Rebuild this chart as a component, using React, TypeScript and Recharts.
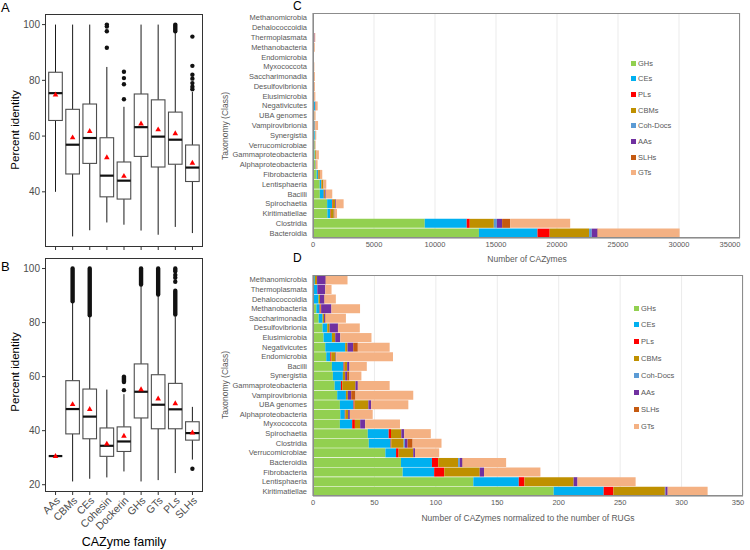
import React from "react";
import { ComposedChart, BarChart, Bar, XAxis, YAxis, CartesianGrid } from "recharts";

const families = ["AAs", "CBMs", "CEs", "Cohesin", "Dockerin", "GHs", "GTs", "PLs", "SLHs"];

// Panel A - percent identity per CAZyme family
const aWhiskLo = [40.0, 24.0, 26.2, 29.0, 28.2, 26.1, 24.6, 27.4, 25.2];
const aQ1 = [65.6, 46.4, 50.2, 38.2, 37.4, 52.7, 48.9, 49.9, 43.7];
const aMedian = [75.4, 56.9, 59.3, 45.8, 44.0, 63.2, 59.8, 58.7, 48.7];
const aQ3 = [82.9, 69.6, 71.5, 59.4, 50.7, 75.1, 73.0, 68.6, 56.8];
const aWhiskHi = [100, 100, 100, 84.8, 70.5, 100, 100, 97.6, 75.8];
const aMean = [74.9, 59.5, 61.8, 52.4, 45.7, 64.5, 62.4, 61.0, 50.4];
const aOutliers = [[], [], [], [100, 99.3, 97.6, 91.7], [83.1, 80.8, 78.6, 73.2], [], [], [], [95.7, 85.2, 82.0, 80.6, 79.0, 77.7, 76.8]];
const aOutlierRuns = [[], [], [], [], [], [], [], [[97.6, 100]], []];

// Panel B
const bWhiskLo = [30.6, 21.2, 22.2, 22.7, 24.9, 21.2, 21.7, 24.3, 29.3];
const bQ1 = [30.6, 38.8, 37.0, 30.5, 32.3, 44.7, 40.7, 40.7, 36.5];
const bMedian = [30.6, 48.0, 45.2, 34.4, 36.0, 54.4, 49.6, 47.9, 39.1];
const bQ3 = [30.6, 58.5, 55.4, 41.0, 41.4, 64.7, 60.7, 57.5, 43.3];
const bWhiskHi = [30.6, 87.9, 82.7, 55.2, 53.5, 94.1, 90.4, 82.3, 48.8];
const bMean = [30.6, 49.8, 48.0, 35.2, 38.1, 55.3, 51.9, 50.1, 39.3];
const bOutliers = [[], [], [], [], [55.0], [], [], [97.6, 96.6, 95.1], [25.9]];
const bOutlierRuns = [[], [[87.9, 100]], [[82.7, 100]], [], [[58.0, 60.0]], [[94.1, 100]], [[90.4, 100]], [[99.0, 100], [83.0, 91.8]], []];

const A_DOMAIN: [number, number] = [20.2, 103.8];
const B_DOMAIN: [number, number] = [17.3, 103.9];

// Panels C / D - stacked CAZyme counts
const seriesKeys = ["GHs", "CEs", "PLs", "CBMs", "CohDocs", "AAs", "SLHs", "GTs"];
const seriesNames = ["GHs", "CEs", "PLs", "CBMs", "Coh-Docs", "AAs", "SLHs", "GTs"];
const seriesColors = ["#92D050", "#00B0F0", "#FF0000", "#BF9000", "#5B9BD5", "#7030A0", "#C55A11", "#F4B183"];

const cClasses = ["Methanomicrobia", "Dehalococcoidia", "Thermoplasmata", "Methanobacteria", "Endomicrobia", "Myxococcota", "Saccharimonadia", "Desulfovibrionia", "Elusimicrobia", "Negativicutes", "UBA genomes", "Vampirovibrionia", "Synergistia", "Verrucomicrobiae", "Gammaproteobacteria", "Alphaproteobacteria", "Fibrobacteria", "Lentisphaeria", "Bacilli", "Spirochaetia", "Kiritimatiellae", "Clostridia", "Bacteroidia"];
const cGHs = [2, 1, 5, 15, 10, 35, 25, 35, 35, 60, 60, 100, 110, 125, 135, 170, 300, 550, 560, 1160, 1180, 9160, 13600];
const cCEs = [3, 8, 40, 15, 3, 15, 18, 17, 28, 100, 30, 35, 55, 18, 40, 30, 105, 130, 320, 400, 230, 3440, 4800];
const cPLs = [0, 0, 0, 3, 1, 3, 0, 0, 0, 0, 2, 0, 0, 5, 8, 4, 34, 20, 25, 50, 45, 250, 1000];
const cCBMs = [2, 2, 2, 3, 3, 7, 7, 9, 11, 12, 30, 8, 13, 25, 85, 17, 118, 140, 75, 220, 250, 1970, 3230];
const cCohDocs = [0, 0, 0, 0, 0, 0, 0, 0, 0, 0, 0, 0, 0, 0, 0, 0, 0, 0, 0, 0, 10, 250, 220];
const cAAs = [8, 5, 80, 50, 1, 7, 5, 30, 17, 28, 6, 14, 11, 3, 15, 11, 15, 15, 65, 60, 20, 430, 470];
const cSLHs = [0, 0, 0, 0, 0, 0, 3, 1, 0, 23, 0, 18, 13, 0, 0, 0, 0, 10, 0, 0, 40, 660, 30];
const cGTs = [15, 10, 60, 60, 40, 45, 95, 70, 100, 160, 85, 240, 65, 42, 200, 145, 188, 225, 535, 620, 195, 4920, 6700];
const cTicks = [0, 5000, 10000, 15000, 20000, 25000, 30000, 35000];

const dClasses = ["Methanomicrobia", "Thermoplasmata", "Dehalococcoidia", "Methanobacteria", "Saccharimonadia", "Desulfovibrionia", "Elusimicrobia", "Negativicutes", "Endomicrobia", "Bacilli", "Synergistia", "Gammaproteobacteria", "Vampirovibrionia", "UBA genomes", "Alphaproteobacteria", "Myxococcota", "Spirochaetia", "Clostridia", "Verrucomicrobiae", "Bacteroidia", "Fibrobacteria", "Lentisphaeria", "Kiritimatiellae"];
const dGHs = [0.5, 0.3, 0.5, 2.7, 4.6, 7.8, 8.6, 10, 10.8, 15.4, 16.2, 17.6, 19.7, 21.9, 22.2, 21.9, 44.6, 45.4, 58.9, 71.6, 73, 130.5, 195.9];
const dCEs = [1, 3.2, 4, 2.7, 3.2, 3.8, 6.8, 16.2, 3.3, 9.5, 8.1, 5.1, 7.1, 11.1, 3.7, 10, 17, 17.8, 8.7, 25.2, 25.6, 37, 40.7];
const dPLs = [0, 0, 0, 0.7, 0, 0, 0, 0, 0.8, 0.8, 0, 1.1, 0, 0.8, 0.5, 2.2, 1.9, 0.5, 2.1, 5.1, 8.2, 4.6, 7.9];
const dCBMs = [1.8, 0, 1.2, 0.5, 1.2, 1.9, 2.7, 1.9, 3.5, 2.1, 1.9, 10.8, 1.6, 11.3, 2.2, 4.3, 8.4, 10.1, 11.9, 16.2, 28.9, 40, 41.9];
const dCohDocs = [0, 0, 0, 0, 0, 0, 0, 0, 0, 0, 0, 0, 0, 0, 0, 0, 0, 1.1, 0, 1.4, 0, 0, 0.5];
const dAAs = [7, 6.5, 3.5, 8.4, 0.8, 6.8, 4.1, 4.6, 0.5, 1.9, 1.6, 1.9, 2.7, 2.2, 1.4, 4, 2.4, 2.1, 1.4, 2.1, 3.5, 3.2, 1.8];
const dSLHs = [0.2, 0, 0.3, 0, 0.5, 0.3, 0, 3.8, 0, 0, 1.9, 0, 3.5, 0, 0, 0, 0, 4.1, 0, 0.3, 0, 0, 0];
const dGTs = [17.6, 5.1, 9.1, 23.3, 16.5, 17.5, 25.4, 25.9, 46.2, 14.1, 9.7, 25.9, 47, 30.3, 18.6, 28.4, 21.6, 23.5, 19.7, 35.3, 45.9, 47.3, 32.5];
const dTicks = [0, 50, 100, 150, 200, 250, 300, 350];

const FONT = "'Liberation Sans', Arial, Helvetica, sans-serif";
const GREY = "#595959";

function boxRows(lo, q1, med, q3, hi, mean, outliers, runs) {
  return families.map((f, i) => ({
    family: f, lo: lo[i], q1: q1[i], med: med[i], q3: q3[i], hi: hi[i], mean: mean[i],
    outliers: outliers[i], runs: runs[i],
  }));
}

function stackRows(classes, cols) {
  return classes.map((c, i) => {
    const row: any = { cls: c };
    seriesKeys.forEach((k, j) => (row[k] = cols[j][i]));
    return row;
  });
}

const aData = boxRows(aWhiskLo, aQ1, aMedian, aQ3, aWhiskHi, aMean, aOutliers, aOutlierRuns);
const bData = boxRows(bWhiskLo, bQ1, bMedian, bQ3, bWhiskHi, bMean, bOutliers, bOutlierRuns);
const cData = stackRows(cClasses, [cGHs, cCEs, cPLs, cCBMs, cCohDocs, cAAs, cSLHs, cGTs]);
const dData = stackRows(dClasses, [dGHs, dCEs, dPLs, dCBMs, dCohDocs, dAAs, dSLHs, dGTs]);

// the bar spans the whole y domain, so its rect gives the axis mapping
function makeBoxShape(domain: [number, number]) {
  return (props: any) => {
    const { x, y, width, height, payload } = props;
    const toY = (v: number) => y + ((domain[1] - v) / (domain[1] - domain[0])) * height;
    const cx = x + width / 2;
    const half = width * 0.4;
    const my = toY(payload.mean);
    return (
      <g>
        <line x1={cx} x2={cx} y1={toY(payload.hi)} y2={toY(payload.q3)} stroke="#1a1a1a" strokeWidth={1} />
        <line x1={cx} x2={cx} y1={toY(payload.q1)} y2={toY(payload.lo)} stroke="#1a1a1a" strokeWidth={1} />
        <rect x={cx - half} y={toY(payload.q3)} width={half * 2} height={toY(payload.q1) - toY(payload.q3)} fill="#fff" stroke="#4d4d4d" strokeWidth={1.1} />
        <line x1={cx - half} x2={cx + half} y1={toY(payload.med)} y2={toY(payload.med)} stroke="#111" strokeWidth={2.2} />
        {payload.runs.map((r, i) => (
          <line key={"r" + i} x1={cx} x2={cx} y1={toY(r[0])} y2={toY(r[1])} stroke="#111" strokeWidth={4.4} strokeLinecap="round" />
        ))}
        {payload.outliers.map((v, i) => (
          <circle key={"o" + i} cx={cx} cy={toY(v)} r={2.2} fill="#111" />
        ))}
        <polygon points={`${cx},${my - 3} ${cx - 2.8},${my + 1.9} ${cx + 2.8},${my + 1.9}`} fill="#FF0000" />
      </g>
    );
  };
}

const RotTick = (p: any) => {
  const { x, y, payload } = p;
  return (
    <text x={x} y={y} dy="0.7em" transform={`rotate(-45, ${x}, ${y})`} textAnchor="end" fontSize={10.5} fill="#4d4d4d" fontFamily={FONT}>
      {payload.value}
    </text>
  );
};

const ClassTick = (p: any) => (
  <text x={p.x} y={p.y} dy="0.34em" textAnchor="end" fontSize={7.5} fill={GREY} fontFamily={FONT}>
    {p.payload.value}
  </text>
);

const ValueTick = (p: any) => (
  <text x={p.x} y={p.y} dy="0.72em" textAnchor="middle" fontSize={7.5} fill={GREY} fontFamily={FONT}>
    {p.payload.value}
  </text>
);

function BoxPanel({ data, domain, ticks, top, height, xHeight, rotated }) {
  return (
    <div style={{ position: "absolute", left: 0, top }}>
      <ComposedChart width={210} height={height} data={data} margin={{ top: 3, right: 7, left: 0, bottom: 0 }} barCategoryGap={0}>
        <XAxis
          dataKey="family"
          type="category"
          height={xHeight}
          padding={{ left: 2, right: 2 }}
          axisLine={false}
          tickLine={{ stroke: "#333" }}
          tickSize={3}
          tickMargin={1}
          interval={0}
          tick={rotated ? RotTick : () => <g />}
        />
        <YAxis
          type="number"
          domain={domain}
          ticks={ticks}
          allowDataOverflow
          width={45}
          axisLine={false}
          tickLine={{ stroke: "#333" }}
          tickSize={3}
          tickMargin={2}
          tick={{ fontSize: 10, fill: "#4d4d4d", fontFamily: FONT }}
        />
        <Bar dataKey={() => [domain[0], domain[1]]} shape={makeBoxShape(domain)} isAnimationActive={false} />
      </ComposedChart>
    </div>
  );
}

function SeriesLegend({ left, top, step }) {
  return (
    <div style={{ position: "absolute", left, top }}>
      {seriesNames.map((n, i) => (
        <div key={n} style={{ position: "absolute", left: 0, top: i * step - 5, height: 10, display: "flex", alignItems: "center", whiteSpace: "nowrap" }}>
          <span style={{ display: "inline-block", width: 5, height: 5, background: seriesColors[i], marginRight: 2 }} />
          <span style={{ fontSize: 7.5, color: GREY, fontFamily: FONT }}>{n}</span>
        </div>
      ))}
    </div>
  );
}

function StackPanel({ data, ticks, top, height, marginTop, marginRight, marginBottom }) {
  return (
    <div style={{ position: "absolute", left: 200, top }}>
      <BarChart width={550} height={height} data={data} layout="vertical" barCategoryGap={0.4} margin={{ top: marginTop, right: marginRight, left: 0, bottom: marginBottom }}>
        <CartesianGrid horizontal={false} stroke="#ebebeb" />
        <XAxis
          type="number"
          domain={[ticks[0], ticks[ticks.length - 1]]}
          ticks={ticks}
          height={14}
          axisLine={{ stroke: "#7f7f7f" }}
          tickLine={false}
          tickSize={0}
          tickMargin={4}
          tick={ValueTick}
        />
        <YAxis
          type="category"
          dataKey="cls"
          width={113}
          interval={0}
          axisLine={{ stroke: "#7f7f7f" }}
          tickLine={false}
          tickSize={0}
          tickMargin={6}
          tick={ClassTick}
        />
        {seriesKeys.map((k, i) => (
          <Bar key={k} dataKey={k} name={seriesNames[i]} stackId="s" fill={seriesColors[i]} isAnimationActive={false} />
        ))}
      </BarChart>
    </div>
  );
}

const txt = (s: any) => ({ position: "absolute" as const, fontFamily: FONT, whiteSpace: "nowrap" as const, lineHeight: 1, ...s });

export default function App() {
  return (
    <div style={{ position: "absolute", left: 0, top: 0, width: 750, height: 550, background: "#fff", overflow: "hidden" }}>
      <BoxPanel data={aData} domain={A_DOMAIN} ticks={[40, 60, 80, 100]} top={11} height={247} xHeight={11} rotated={false} />
      <BoxPanel data={bData} domain={B_DOMAIN} ticks={[20, 40, 60, 80, 100]} top={255} height={295} xHeight={58} rotated />
      <div style={{ position: "absolute", left: 45, top: 14, width: 158, height: 233, border: "1px solid #333", boxSizing: "border-box" }} />
      <div style={{ position: "absolute", left: 45, top: 258, width: 158, height: 234, border: "1px solid #333", boxSizing: "border-box" }} />

      <div style={txt({ left: 1, top: 1, fontSize: 13 })}>A</div>
      <div style={txt({ left: 1, top: 260, fontSize: 13 })}>B</div>
      <div style={txt({ left: 16, top: 130, fontSize: 11.5, transform: "translate(-50%, -50%) rotate(-90deg)" })}>Percent identity</div>
      <div style={txt({ left: 16, top: 372, fontSize: 11.5, transform: "translate(-50%, -50%) rotate(-90deg)" })}>Percent identity</div>
      <div style={txt({ left: 124, top: 542, fontSize: 12.5, transform: "translate(-50%, -50%)" })}>CAZyme family</div>

      <StackPanel data={cData} ticks={cTicks} top={0} height={270} marginTop={13} marginRight={10} marginBottom={18} />
      <StackPanel data={dData} ticks={dTicks} top={262} height={288} marginTop={13} marginRight={7} marginBottom={40} />
      <div style={{ position: "absolute", left: 313, top: 13, width: 427, height: 225, border: "1px solid #8c8c8c", boxSizing: "border-box" }} />
      <div style={{ position: "absolute", left: 313, top: 275, width: 430, height: 221, border: "1px solid #8c8c8c", boxSizing: "border-box" }} />

      <SeriesLegend left={631} top={63} step={15.7} />
      <SeriesLegend left={634} top={308} step={16.9} />

      <div style={txt({ left: 293, top: 0, fontSize: 12 })}>C</div>
      <div style={txt({ left: 293, top: 252, fontSize: 12 })}>D</div>
      <div style={txt({ left: 225, top: 126, fontSize: 8.5, color: GREY, transform: "translate(-50%, -50%) rotate(-90deg)" })}>Taxonomy (Class)</div>
      <div style={txt({ left: 225, top: 385, fontSize: 8.5, color: GREY, transform: "translate(-50%, -50%) rotate(-90deg)" })}>Taxonomy (Class)</div>
      <div style={txt({ left: 527, top: 259, fontSize: 8.5, color: GREY, transform: "translate(-50%, -50%)" })}>Number of CAZymes</div>
      <div style={txt({ left: 528, top: 518, fontSize: 8.5, color: GREY, transform: "translate(-50%, -50%)" })}>Number of CAZymes normalized to the number of RUGs</div>
    </div>
  );
}
